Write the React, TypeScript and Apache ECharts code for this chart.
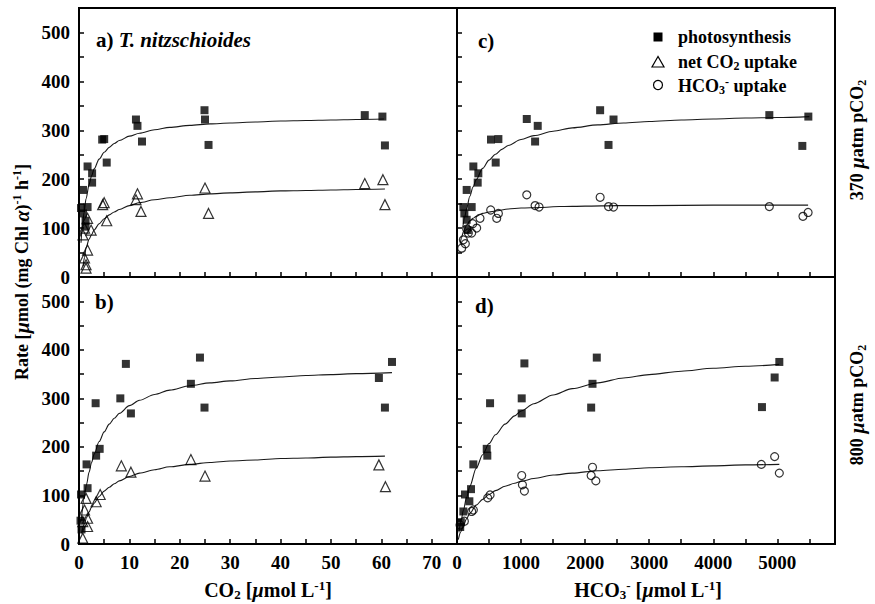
import React, { useEffect, useRef } from 'react';
import * as echarts from 'echarts';

// ---------- Panel a) 370 µatm, rates vs CO2 ----------
const aPhotoCO2 = [0.4, 0.8, 0.8, 1.3, 1.3, 1.7, 1.7, 2.6, 2.6, 4.6, 5.0, 5.5, 11.3, 11.6, 12.5, 24.9, 25.0, 25.7, 56.7, 60.2, 60.7];
const aPhotoRate = [141, 178, 130, 115, 103, 143, 226, 212, 193, 281, 282, 234, 322, 309, 277, 341, 322, 270, 331, 328, 269];
const aNetCO2 = [0.8, 1.1, 1.4, 1.4, 1.7, 1.1, 1.7, 2.4, 4.7, 5.0, 5.5, 11.3, 11.6, 12.3, 25.0, 25.7, 56.7, 60.3, 60.7];
const aNetRate = [86, 39, 25, 18, 55, 100, 120, 96, 148, 152, 115, 158, 170, 134, 182, 130, 191, 199, 148];
const aPhotoFitX = [0.4, 0.75, 1, 1.4, 2, 2.5, 3, 4, 5, 6, 7, 8, 10, 12, 15, 18, 22, 26, 30, 35, 40, 45, 50, 55, 60.5];
const aPhotoFitY = [70, 110, 132, 160, 189, 207, 221, 241, 255, 265, 273, 279, 288, 294, 301, 306, 310, 313, 315, 317, 319, 320, 321, 322, 323];
const aNetFitX = [0.8, 1.1, 1.4, 2, 2.5, 3, 4, 5, 6, 7, 8, 10, 12, 15, 18, 22, 26, 30, 35, 40, 45, 50, 55, 60.7];
const aNetFitY = [22, 40, 60, 77, 87, 96, 109, 119, 127, 133, 138, 146, 152, 158, 162, 167, 170, 172, 174, 176, 177, 178, 179, 180];

// ---------- Panel c) 370 µatm, rates vs HCO3- ----------
const cPhotoHCO3 = [99, 115, 151, 167, 151, 229, 255, 333, 323, 531, 646, 604, 1089, 1260, 1219, 2234, 2443, 2365, 4875, 5484, 5390];
const cPhotoRate = [143, 130, 117, 96, 178, 143, 226, 212, 193, 281, 282, 234, 323, 309, 277, 341, 322, 270, 331, 328, 268];
const cBicHCO3 = [73, 99, 130, 151, 177, 229, 245, 307, 359, 526, 620, 646, 1089, 1219, 1281, 2234, 2365, 2443, 4875, 5400, 5480];
const cBicRate = [59, 76, 68, 98, 90, 90, 109, 100, 120, 137, 120, 130, 168, 146, 143, 163, 144, 143, 144, 124, 132];
const cPhotoFitX = [90, 120, 150, 200, 250, 300, 400, 500, 600, 700, 800, 1000, 1200, 1500, 1800, 2200, 2600, 3000, 3500, 4000, 4500, 5000, 5500];
const cPhotoFitY = [101, 122, 140, 165, 184, 199, 222, 239, 251, 261, 269, 281, 289, 298, 305, 311, 315, 318, 321, 323, 325, 326, 328];
const cBicFitX = [50, 70, 100, 150, 200, 250, 300, 400, 500, 600, 800, 1000, 1300, 1600, 2000, 2500, 3000, 4000, 5000, 5480];
const cBicFitY = [68, 80, 93, 106, 115, 120, 124, 130, 133, 135, 139, 141, 142, 144, 145, 146, 146, 147, 147, 147];

// ---------- Panel b) 800 µatm, rates vs CO2 ----------
const bPhotoCO2 = [0.3, 0.5, 0.4, 1.7, 1.5, 3.4, 4.1, 3.3, 8.2, 9.3, 10.3, 22.2, 24.0, 24.9, 59.5, 60.7, 62.1];
const bPhotoRate = [48, 30, 102, 115, 164, 182, 196, 290, 300, 371, 269, 330, 384, 281, 342, 281, 375];
const bNetCO2 = [0.75, 0.75, 1.1, 1.4, 1.7, 1.7, 3.4, 4.2, 8.4, 10.3, 22.2, 25.0, 59.5, 60.8];
const bNetRate = [12, 46, 70, 94, 53, 36, 87, 102, 161, 148, 174, 140, 163, 118];
const bPhotoFitX = [0.5, 1, 1.5, 2, 2.5, 3, 4, 5, 6, 7, 8, 10, 12, 15, 18, 22, 26, 30, 35, 40, 45, 50, 55, 62.1];
const bPhotoFitY = [53, 93, 123, 148, 168, 185, 211, 231, 247, 259, 269, 285, 296, 308, 317, 326, 332, 336, 341, 344, 347, 349, 351, 353];
const bNetFitX = [0.5, 1, 1.5, 2, 2.5, 3, 4, 5, 6, 7, 8, 10, 12, 15, 18, 22, 26, 30, 35, 40, 45, 50, 55, 60.7];
const bNetFitY = [22, 40, 54, 66, 76, 84, 98, 109, 117, 124, 130, 139, 146, 153, 159, 164, 168, 171, 173, 176, 177, 179, 180, 181];

// ---------- Panel d) 800 µatm, rates vs HCO3- ----------
const dPhotoHCO3 = [50, 60, 99, 125, 193, 219, 255, 464, 473, 516, 1010, 1010, 1052, 2094, 2115, 2182, 4760, 4958, 5031];
const dPhotoRate = [35, 45, 67, 102, 88, 113, 164, 196, 182, 290, 300, 269, 372, 281, 330, 384, 282, 343, 375];
const dBicHCO3 = [47, 115, 229, 255, 479, 516, 1010, 1021, 1052, 2094, 2115, 2167, 4750, 4958, 5031];
const dBicRate = [39, 47, 67, 70, 95, 101, 141, 122, 109, 141, 158, 130, 164, 180, 146];
const dPhotoFitX = [30, 60, 100, 150, 200, 300, 400, 500, 600, 750, 900, 1000, 1200, 1500, 1800, 2200, 2600, 3000, 3500, 4000, 4500, 5031];
const dPhotoFitY = [24, 45, 70, 96, 119, 156, 184, 207, 225, 247, 264, 274, 289, 307, 320, 332, 342, 349, 356, 362, 366, 370];
const dBicFitX = [20, 60, 100, 150, 200, 300, 400, 500, 600, 750, 900, 1000, 1200, 1500, 1800, 2200, 2600, 3000, 3500, 4000, 4500, 5031];
const dBicFitY = [9, 25, 38, 52, 63, 80, 92, 102, 110, 119, 125, 129, 135, 142, 146, 151, 154, 157, 159, 161, 163, 164];

// ---------- axes ----------
const CO2_MAX = 75;
const HCO3_MAX = 5900;
const RATE_MAX = 550;

const FONT = "'Liberation Serif', 'Times New Roman', Times, serif";

function pairs(xs: number[], ys: number[]) {
  return xs.map((x, i) => [x, ys[i]]);
}

export default function App() {
  const ref = useRef<HTMLDivElement>(null);

  useEffect(() => {
    if (!ref.current) return;
    const chart = echarts.init(ref.current, null, { renderer: 'svg' });

    const grids = [
      { left: 79, top: 8, width: 378, height: 269 },
      { left: 457, top: 8, width: 378, height: 269 },
      { left: 79, top: 277, width: 378, height: 267 },
      { left: 457, top: 277, width: 378, height: 267 },
    ].map((g) => ({
      ...g,
      show: true,
      borderColor: '#000',
      borderWidth: 2,
      backgroundColor: 'transparent',
      containLabel: false,
      outerBoundsMode: 'none',
    }));

    const tickLabel = {
      color: '#000',
      fontFamily: FONT,
      fontWeight: 'bold',
      fontSize: 19,
    };

    const xAxis = (gi: number, max: number, interval: number, major: number, labels: boolean) => ({
      type: 'value',
      gridIndex: gi,
      min: 0,
      max,
      interval,
      axisLine: { show: true, onZero: false, lineStyle: { color: '#000', width: 2 } },
      axisTick: { show: true, inside: true, length: 5, lineStyle: { color: '#000', width: 1.5 } },
      splitLine: { show: false },
      axisLabel: {
        show: labels,
        margin: 9,
        showMaxLabel: false,
        ...tickLabel,
        formatter: (v: number) => (v % major === 0 ? String(v) : ''),
      },
    });

    const yAxis = (gi: number, labels: boolean) => ({
      type: 'value',
      gridIndex: gi,
      min: 0,
      max: RATE_MAX,
      interval: 50,
      axisLine: { show: true, onZero: false, lineStyle: { color: '#000', width: 2 } },
      axisTick: { show: true, inside: true, length: 5, lineStyle: { color: '#000', width: 1.5 } },
      splitLine: { show: false },
      axisLabel: {
        show: labels,
        margin: 9,
        showMaxLabel: false,
        ...tickLabel,
        formatter: (v: number) => (v % 100 === 0 ? String(v) : ''),
      },
    });

    const squares = (i: number, data: number[][]) => ({
      type: 'scatter',
      xAxisIndex: i,
      yAxisIndex: i,
      data,
      symbol: 'rect',
      symbolSize: 8,
      itemStyle: { color: '#000' },
      silent: true,
      z: 4,
    });
    const hollow = (i: number, data: number[][], symbol: string, size: number) => ({
      type: 'scatter',
      xAxisIndex: i,
      yAxisIndex: i,
      data,
      symbol,
      symbolSize: size,
      itemStyle: { color: 'rgba(0,0,0,0)', borderColor: '#000', borderWidth: 1.2 },
      silent: true,
      z: 4,
    });
    const fit = (i: number, data: number[][]) => ({
      type: 'line',
      xAxisIndex: i,
      yAxisIndex: i,
      data,
      showSymbol: false,
      symbol: 'none',
      smooth: 0.3,
      smoothMonotone: 'x',
      lineStyle: { color: '#1a1a1a', width: 1.1 },
      silent: true,
      z: 3,
    });

    const base = { fontFamily: FONT, fontWeight: 'bold', fill: '#000' };
    const rich = {
      n: { fontFamily: FONT, fontWeight: 'bold', fontSize: 20, lineHeight: 22, color: '#000' },
      i: { fontFamily: FONT, fontWeight: 'bold', fontStyle: 'italic', fontSize: 20, lineHeight: 22, color: '#000' },
      s: { fontFamily: FONT, fontWeight: 'bold', fontSize: 13, lineHeight: 14, verticalAlign: 'bottom', color: '#000' },
      p: { fontFamily: FONT, fontWeight: 'bold', fontSize: 13, lineHeight: 14, verticalAlign: 'top', color: '#000' },
      ln: { fontFamily: FONT, fontWeight: 'bold', fontSize: 18, lineHeight: 20, color: '#000' },
      ls: { fontFamily: FONT, fontWeight: 'bold', fontSize: 12, lineHeight: 13, verticalAlign: 'bottom', color: '#000' },
      lp: { fontFamily: FONT, fontWeight: 'bold', fontSize: 12, lineHeight: 13, verticalAlign: 'top', color: '#000' },
      pl: { fontFamily: FONT, fontWeight: 'bold', fontSize: 21, lineHeight: 24, color: '#000' },
      pi: { fontFamily: FONT, fontWeight: 'bold', fontStyle: 'italic', fontSize: 21, lineHeight: 24, color: '#000' },
    };
    const txt = (x: number, y: number, text: string, align: string, rotation = 0) => ({
      type: 'text',
      x,
      y,
      rotation,
      silent: true,
      style: { ...base, fontSize: 20, text, rich, align, verticalAlign: 'middle' },
    });

    const option = {
      animation: false,
      backgroundColor: '#fff',
      grid: grids,
      xAxis: [
        xAxis(0, CO2_MAX, 5, 10, false),
        xAxis(1, HCO3_MAX, 500, 1000, false),
        xAxis(2, CO2_MAX, 5, 10, true),
        xAxis(3, HCO3_MAX, 500, 1000, true),
      ],
      yAxis: [yAxis(0, true), yAxis(1, false), yAxis(2, true), yAxis(3, false)],
      series: [
        fit(0, pairs(aPhotoFitX, aPhotoFitY)),
        fit(0, pairs(aNetFitX, aNetFitY)),
        squares(0, pairs(aPhotoCO2, aPhotoRate)),
        hollow(0, pairs(aNetCO2, aNetRate), 'triangle', 10),

        fit(1, pairs(cPhotoFitX, cPhotoFitY)),
        fit(1, pairs(cBicFitX, cBicFitY)),
        squares(1, pairs(cPhotoHCO3, cPhotoRate)),
        hollow(1, pairs(cBicHCO3, cBicRate), 'circle', 8),

        fit(2, pairs(bPhotoFitX, bPhotoFitY)),
        fit(2, pairs(bNetFitX, bNetFitY)),
        squares(2, pairs(bPhotoCO2, bPhotoRate)),
        hollow(2, pairs(bNetCO2, bNetRate), 'triangle', 10),

        fit(3, pairs(dPhotoFitX, dPhotoFitY)),
        fit(3, pairs(dBicFitX, dBicFitY)),
        squares(3, pairs(dPhotoHCO3, dPhotoRate)),
        hollow(3, pairs(dBicHCO3, dBicRate), 'circle', 8),
      ],
      graphic: [
        // panel labels
        txt(96, 40, '{pl|a) }{pi|T. nitzschioides}', 'left'),
        txt(95, 302, '{pl|b)}', 'left'),
        txt(478, 41, '{pl|c)}', 'left'),
        txt(475, 306, '{pl|d)}', 'left'),
        // legend
        {
          type: 'rect',
          silent: true,
          shape: { x: 653.5, y: 32.5, width: 9, height: 9 },
          style: { fill: '#000' },
        },
        {
          type: 'polygon',
          silent: true,
          shape: { points: [[658, 56.5], [652, 67], [664, 67]] },
          style: { fill: 'none', stroke: '#000', lineWidth: 1.2 },
        },
        {
          type: 'circle',
          silent: true,
          shape: { cx: 658, cy: 85, r: 4.5 },
          style: { fill: 'none', stroke: '#000', lineWidth: 1.2 },
        },
        txt(678, 37, '{ln|photosynthesis}', 'left'),
        txt(678, 62, '{ln|net CO}{ls|2}{ln| uptake}', 'left'),
        txt(678, 86, '{ln|HCO}{ls|3}{lp|-}{ln| uptake}', 'left'),
        // axis titles
        txt(268, 590, '{n|CO}{s|2}{n| [}{i|µ}{n|mol L}{p|-1}{n|]}', 'center'),
        txt(648, 590, '{n|HCO}{s|3}{p|-}{n| [}{i|µ}{n|mol L}{p|-1}{n|]}', 'center'),
        txt(22, 272, '{ln|Rate [}{i|µ}{ln|mol (mg Chl }{i|α}{ln|)}{lp|-1}{ln| h}{lp|-1}{ln|]}', 'center', Math.PI / 2),
        // right-side treatment labels
        txt(857, 140, '{ln|370 }{i|µ}{ln|atm pCO}{ls|2}', 'center', Math.PI / 2),
        txt(857, 405, '{ln|800 }{i|µ}{ln|atm pCO}{ls|2}', 'center', Math.PI / 2),
      ],
    };

    chart.setOption(option as any);
    return () => chart.dispose();
  }, []);

  return (
    <div
      ref={ref}
      style={{ position: 'absolute', left: 0, top: 0, width: 875, height: 604, background: '#fff' }}
    />
  );
}
